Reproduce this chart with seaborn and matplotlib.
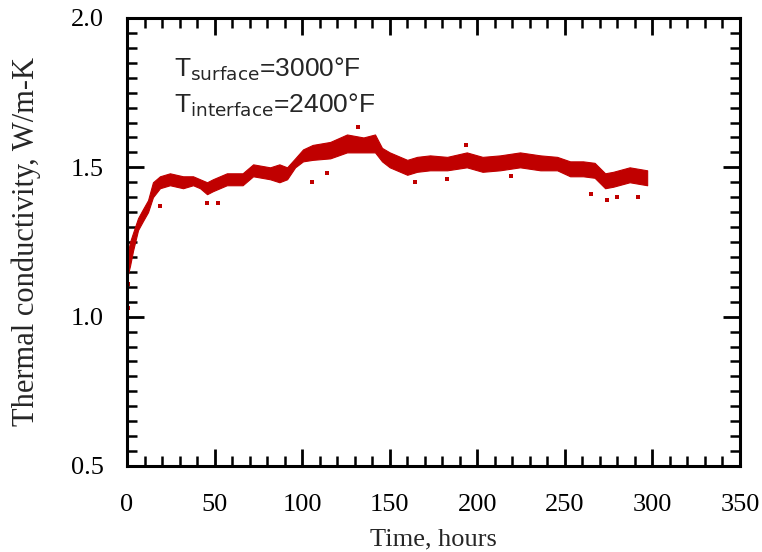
import numpy as np
import matplotlib
matplotlib.use("Agg")
import matplotlib.pyplot as plt
from matplotlib.ticker import MultipleLocator, FormatStrFormatter
import seaborn as sns

sns.set_style("ticks")
plt.rcParams['font.family'] = ['Liberation Serif', 'DejaVu Serif']

red = '#C00000'

# band of the measured scatter: time (hours), lower and upper edge (W/m-K)
time_h = [0.0, 1.7, 3.4, 6.3, 9.1, 12.0, 14.8, 18.8, 24.5, 32.0, 37.7, 41.7,
          45.7, 49.0, 57.0, 66.0, 72.0, 81.7, 87.0, 91.4, 96.0, 100.5, 106.0,
          116.0, 125.6, 135.0, 141.6, 145.6, 150.0, 160.0, 165.6, 173.0,
          182.8, 194.0, 203.0, 213.0, 224.4, 236.0, 245.6, 253.0, 260.4,
          267.0, 273.0, 277.6, 287.0, 297.0]
k_low = [1.13, 1.17, 1.22, 1.29, 1.32, 1.35, 1.40, 1.43, 1.44, 1.43, 1.44, 1.43,
         1.41, 1.42, 1.44, 1.44, 1.47, 1.46, 1.45, 1.46, 1.50, 1.52, 1.525,
         1.53, 1.55, 1.55, 1.55, 1.52, 1.50, 1.475, 1.485, 1.49,
         1.49, 1.50, 1.485, 1.49, 1.50, 1.49, 1.49, 1.47, 1.47,
         1.465, 1.43, 1.435, 1.45, 1.44]
k_high = [1.20, 1.25, 1.28, 1.33, 1.36, 1.39, 1.45, 1.47, 1.48, 1.47, 1.47, 1.46,
          1.45, 1.46, 1.48, 1.48, 1.51, 1.50, 1.51, 1.50, 1.53, 1.56, 1.575,
          1.585, 1.61, 1.60, 1.61, 1.565, 1.55, 1.525, 1.535, 1.54,
          1.535, 1.55, 1.535, 1.54, 1.55, 1.54, 1.535, 1.52, 1.52,
          1.515, 1.48, 1.485, 1.50, 1.49]

# isolated points outside the band
out_t = [0.2, 0.3, 0.5, 18.8, 45.7, 52.0, 105.6, 114.0, 132.0, 164.5, 182.7,
         193.6, 219.0, 265.0, 274.0, 280.0, 292.0]
out_k = [1.07, 1.03, 1.11, 1.37, 1.38, 1.38, 1.45, 1.48, 1.635, 1.45, 1.46,
         1.575, 1.47, 1.41, 1.39, 1.40, 1.40]

fig = plt.figure(figsize=(7.62, 5.52), dpi=100)
ax = fig.add_axes([0.1667, 0.1558, 0.8044, 0.8116])

ax.fill_between(time_h, k_low, k_high, color=red, linewidth=0.8, edgecolor=red)
sns.scatterplot(x=out_t, y=out_k, ax=ax, color=red, marker='s', s=5,
                linewidth=0)

ax.set_xlim(0, 350)
ax.set_ylim(0.5, 2.0)
ax.xaxis.set_major_locator(MultipleLocator(50))
ax.xaxis.set_minor_locator(MultipleLocator(10))
ax.yaxis.set_major_locator(MultipleLocator(0.5))
ax.yaxis.set_minor_locator(MultipleLocator(0.05))
ax.yaxis.set_major_formatter(FormatStrFormatter('%.1f'))

for s in ax.spines.values():
    s.set_linewidth(2.2)
    s.set_color('black')
ax.tick_params(which='both', direction='in', top=True, right=True,
               labelsize=19, colors='black')
ax.tick_params(which='major', length=12, width=2.0)
ax.tick_params(which='minor', length=7, width=1.8)
ax.tick_params(axis='y', which='major', pad=17)
ax.tick_params(axis='x', which='major', pad=20)

ax.set_xlabel('Time, hours', fontsize=19, labelpad=9)
ax.set_ylabel('Thermal conductivity, W/m-K', fontsize=22, labelpad=21)

ax.text(0.077, 0.8705, r'T$_{\mathrm{surface}}$=3000°F', transform=ax.transAxes,
        fontsize=19, family=['Liberation Sans', 'DejaVu Sans'], va='baseline')
ax.text(0.077, 0.790, r'T$_{\mathrm{interface}}$=2400°F', transform=ax.transAxes,
        fontsize=19, family=['Liberation Sans', 'DejaVu Sans'], va='baseline')

fig.savefig('out.png', dpi=100)
